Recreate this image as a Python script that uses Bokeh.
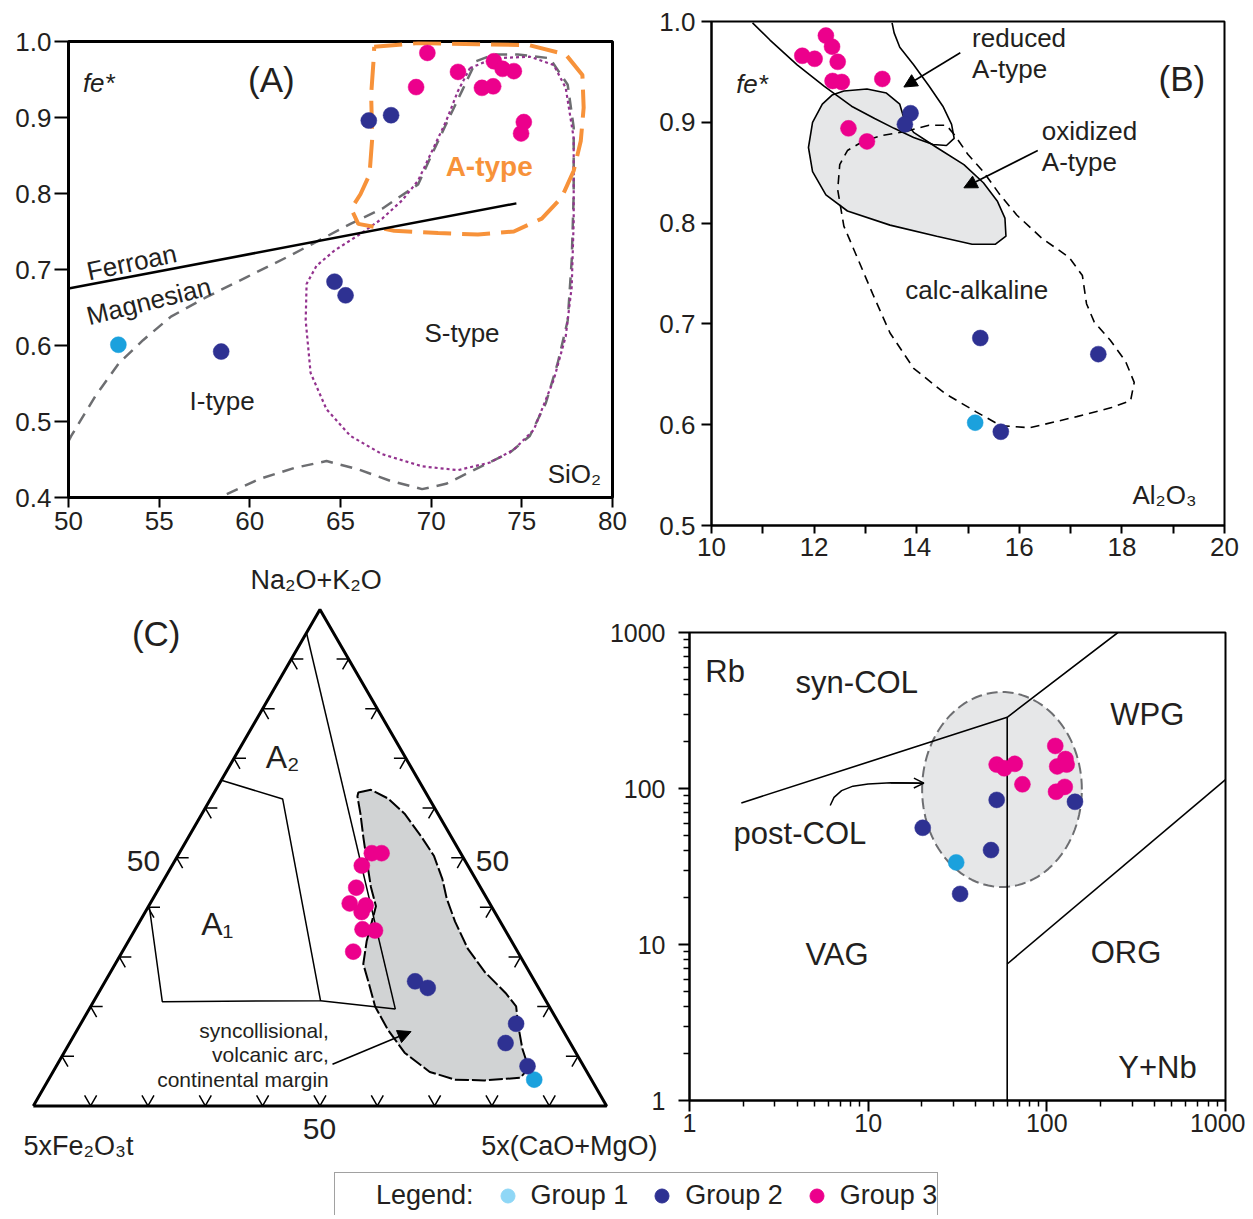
import numpy as np
from bokeh.plotting import figure
from bokeh.layouts import column, row
from bokeh.models import (Range1d, FixedTicker, PrintfTickFormatter, Arrow,
                          NormalHead, OpenHead, Legend, LegendItem, Label)
from bokeh.core.properties import value
from bokeh.embed import file_html
from bokeh.resources import INLINE

FONT = "Liberation Sans"
INK = "#231f20"
C_G1 = "#1ba1dd"
C_G1_LEG = "#8fd7f6"
C_G2 = "#2e3192"
C_G3 = "#ec008c"
ORANGE = "#f7923a"
PURPLE = "#93328e"
GREY = "#6d6e71"

# ======================= DATA =======================
# ---- (A) SiO2 vs fe* ----
a_xticks = [50, 55, 60, 65, 70, 75, 80]
a_yticks = [0.4, 0.5, 0.6, 0.7, 0.8, 0.9, 1.0]
a_g1_sio2 = [52.75]
a_g1_fe = [0.601]
a_g2_sio2 = [66.56, 67.79, 64.67, 65.28, 58.42]
a_g2_fe = [0.896, 0.903, 0.684, 0.666, 0.592]
a_g3_sio2 = [69.79, 69.17, 71.48, 73.46, 73.94, 74.56, 72.80, 73.42, 75.11, 74.96]
a_g3_fe = [0.985, 0.940, 0.960, 0.974, 0.964, 0.961, 0.939, 0.941, 0.894, 0.879]
a_ferroan_sio2 = [50.0, 74.7]
a_ferroan_fe = [0.675, 0.787]
a_itype_sio2 = [50.0, 50.15, 51.47, 52.79, 54.11, 55.65, 57.63, 59.83, 62.03, 63.79, 65.55,
                67.30, 69.28, 70.05, 70.82, 71.70, 72.47, 73.46, 74.78, 76.54, 77.53, 77.86,
                77.86, 77.75, 77.53, 76.98, 76.32, 75.44, 74.34, 73.02, 71.92, 70.82, 69.50,
                67.74, 65.98, 64.23, 62.47, 60.49, 58.51]
a_itype_fe = [0.474, 0.481, 0.533, 0.577, 0.607, 0.638, 0.664, 0.690, 0.716, 0.738, 0.760,
              0.780, 0.812, 0.852, 0.891, 0.935, 0.974, 0.983, 0.983, 0.978, 0.943, 0.887,
              0.799, 0.712, 0.633, 0.577, 0.524, 0.481, 0.459, 0.444, 0.431, 0.418, 0.411,
              0.422, 0.437, 0.448, 0.439, 0.424, 0.402]
a_stype_sio2 = [72.14, 73.46, 75.44, 76.76, 77.42, 77.86, 77.86, 77.75, 77.42, 76.76, 75.66,
                74.56, 73.24, 71.48, 69.50, 67.30, 65.55, 64.23, 63.35, 63.08, 63.13, 63.68,
                64.67, 65.98, 67.30, 68.40, 69.28, 70.05, 70.82, 71.48, 72.14]
a_stype_fe = [0.965, 0.978, 0.980, 0.969, 0.939, 0.873, 0.764, 0.677, 0.612, 0.555, 0.489,
              0.463, 0.446, 0.436, 0.441, 0.457, 0.481, 0.516, 0.564, 0.633, 0.681, 0.705,
              0.725, 0.745, 0.767, 0.791, 0.817, 0.856, 0.895, 0.935, 0.965]
a_atype_sio2 = [66.86, 69.28, 72.58, 75.44, 77.42, 78.34, 78.41, 78.25, 77.86, 77.20, 76.10,
                74.56, 72.58, 70.38, 67.96, 65.98, 65.59, 66.10, 66.60, 66.75, 66.69, 66.82, 66.86]
a_atype_fe = [0.993, 0.998, 0.9965, 0.995, 0.983, 0.956, 0.913, 0.869, 0.830, 0.795, 0.767,
              0.750, 0.746, 0.748, 0.751, 0.760, 0.780, 0.799, 0.825, 0.873, 0.930, 0.974, 0.993]

# ---- (B) Al2O3 vs fe* ----
b_xticks = [10, 12, 14, 16, 18, 20]
b_xminor = [11, 13, 15, 17, 19]
b_yticks = [0.5, 0.6, 0.7, 0.8, 0.9, 1.0]
b_g1_al = [15.14]
b_g1_fe = [0.602]
b_g2_al = [13.88, 13.77, 15.24, 17.54, 15.64]
b_g2_fe = [0.909, 0.898, 0.686, 0.670, 0.593]
b_g3_al = [12.23, 11.77, 12.01, 12.35, 12.46, 12.36, 12.54, 13.33, 12.67, 13.03]
b_g3_fe = [0.986, 0.966, 0.963, 0.975, 0.960, 0.941, 0.940, 0.943, 0.894, 0.881]
b_reduced_al = [10.80, 11.14, 11.67, 12.20, 12.73, 13.18, 13.56, 13.94, 14.32, 14.58, 14.73,
                14.68, 14.51, 14.24, 13.94, 13.67, 13.56, 13.52]
b_reduced_fe = [0.9986, 0.9816, 0.957, 0.9356, 0.916, 0.9037, 0.894, 0.885, 0.878, 0.877,
                0.884, 0.898, 0.916, 0.936, 0.957, 0.9745, 0.9887, 0.9986]
b_oxid_al = [12.58, 13.03, 13.41, 13.67, 13.75, 13.94, 14.39, 14.92, 15.30, 15.57, 15.72,
             15.74, 15.53, 15.08, 14.39, 13.48, 12.65, 12.23, 11.97, 11.89, 11.97, 12.16, 12.35]
b_oxid_fe = [0.931, 0.933, 0.929, 0.918, 0.904, 0.890, 0.875, 0.858, 0.840, 0.822, 0.805,
             0.787, 0.779, 0.779, 0.787, 0.798, 0.812, 0.828, 0.851, 0.875, 0.900, 0.918, 0.927]
b_calc_al = [13.79, 14.24, 14.58, 14.73, 15.00, 15.30, 15.61, 15.95, 16.44, 16.97, 17.23,
             17.31, 17.46, 17.77, 18.07, 18.24, 18.17, 17.80, 17.12, 16.21, 15.64, 15.15,
             14.55, 13.94, 13.48, 13.14, 12.84, 12.58, 12.46, 12.50, 12.65, 12.95, 13.33, 13.79]
b_calc_fe = [0.891, 0.897, 0.897, 0.888, 0.868, 0.851, 0.829, 0.808, 0.785, 0.766, 0.748,
             0.720, 0.702, 0.684, 0.663, 0.642, 0.624, 0.617, 0.608, 0.597, 0.599, 0.613,
             0.631, 0.656, 0.691, 0.730, 0.766, 0.797, 0.833, 0.858, 0.872, 0.881, 0.887, 0.891]

# ---- (C) ternary: Na2O+K2O (apex) / 5xFe2O3t (left) / 5x(CaO+MgO) (right), in % ----
c_g1_alk = [5.29]
c_g1_cam = [84.73]
c_g2_alk = [25.09, 23.76, 16.55, 12.66, 8.01]
c_g2_cam = [54.05, 56.92, 75.94, 76.05, 82.20]
c_g3_alk = [50.9, 50.9, 48.4, 43.95, 40.78, 40.37, 39.06, 35.57, 35.33, 31.07]
c_g3_cam = [33.6, 35.3, 33.1, 34.35, 34.8, 37.8, 37.74, 39.64, 41.94, 40.27]
c_field_alk = [63.12, 63.66, 61.95, 58.86, 54.2, 50.32, 45.66, 41.78, 37.12, 31.69, 27.03,
               22.75, 20.04, 16.15, 11.5, 7.61, 5.67, 5.13, 5.29, 6.84, 10.72, 15.38, 20.04,
               24.69, 28.58, 33.23, 36.33, 40.23, 44.11, 49.54, 54.2, 58.86, 62.35]
c_field_cam = [25.13, 27.06, 30.85, 35.33, 40.6, 44.74, 48.53, 51.22, 55.01, 59.93, 65.19,
               71.0, 74.2, 76.51, 79.56, 82.61, 82.12, 76.14, 70.93, 65.74, 59.4, 54.13, 49.6,
               46.18, 43.27, 41.54, 40.72, 39.65, 36.83, 33.38, 30.46, 27.63, 25.36]
c_a1_alk = [65.6, 61.8, 21.2, 21.0, 40.4]
c_a1_cam = [0.0, 12.6, 39.5, 12.0, 0.0]
c_a1tail_alk = [21.2, 19.5]
c_a1tail_cam = [39.5, 53.4]
c_a2_alk = [95.3, 19.5]
c_a2_cam = [0.0, 53.4]
c_tri_alk = [0, 0, 100, 0]
c_tri_cam = [0, 100, 0, 0]
c_tick_pct = [10, 20, 30, 40, 50, 60, 70, 80, 90]

# ---- (D) Y+Nb vs Rb ----
d_ticks = [1, 10, 100, 1000]
d_minor = [2, 3, 4, 5, 6, 7, 8, 9, 20, 30, 40, 50, 60, 70, 80, 90, 200, 300, 400, 500, 600, 700, 800, 900]
d_g1_ynb = [31.1]
d_g1_rb = [33.6]
d_g2_ynb = [52.4, 143.7, 20.2, 48.7, 32.7]
d_g2_rb = [84.5, 82.2, 56.0, 40.3, 21.1]
d_g3_ynb = [111.5, 52.4, 57.8, 66.2, 73.0, 114.3, 127.2, 129.1, 126.0, 112.6]
d_g3_rb = [187.4, 142.3, 134.7, 143.9, 106.4, 138.5, 154.5, 142.3, 102.4, 95.3]
d_vag_wpg_ynb = [60, 60]
d_vag_wpg_rb = [1, 286]
d_syncol_ynb = [1.95, 60, 250]
d_syncol_rb = [80.8, 286, 1000]
d_org_ynb = [60, 1000]
d_org_rb = [7.5, 114]
d_postcol_center = (56.1, 98.5)      # Y+Nb, Rb
d_postcol_halfdecades = (0.447, 0.625)
d_postcol_arrow_ynb = [6.13, 6.44, 7.10, 8.22, 9.99, 13.4, 20.5]
d_postcol_arrow_rb = [77.8, 87.8, 96.9, 103.5, 106.9, 108.8, 108.2]

# legend
legend_labels = ["Group 1", "Group 2", "Group 3"]
legend_colors = [C_G1_LEG, C_G2, C_G3]


# ======================= HELPERS =======================
def txt(p, x, y, s, size="26px", align="center", baseline="middle",
        color=INK, style="normal", angle=0.0):
    p.text(x=[x], y=[y], text=[s], text_font=value(FONT), text_font_size=value(size),
           text_align=align, text_baseline=baseline, text_color=color,
           text_font_style=style, angle=angle)


def style_axes(p, outline_w, x_out, y_out, x_standoff, y_standoff, fs="26px"):
    p.grid.visible = False
    p.outline_line_color = "black"
    p.outline_line_width = outline_w
    p.outline_line_alpha = 1.0
    p.background_fill_color = "white"
    for ax in p.axis:
        ax.axis_line_width = outline_w
        ax.axis_line_color = "black"
        ax.major_tick_line_color = "black"
        ax.major_tick_line_width = 2
        ax.major_tick_in = 0
        ax.minor_tick_in = 0
        ax.minor_tick_line_color = None
        ax.major_label_text_font = FONT
        ax.major_label_text_font_size = fs
        ax.major_label_text_color = INK
    for ax in p.xaxis:
        ax.major_tick_out = x_out
        ax.major_label_standoff = x_standoff
    for ax in p.yaxis:
        ax.major_tick_out = y_out
        ax.major_label_standoff = y_standoff


def pts(p, x, y, color, size=16):
    p.scatter(x=x, y=y, size=size, fill_color=color, line_color=color, line_width=0.5)


SQ3 = np.sqrt(3) / 2.0


def tern(alk, cam):
    a = np.asarray(alk, dtype=float) / 100.0
    c = np.asarray(cam, dtype=float) / 100.0
    return c + a / 2.0, a * SQ3


COMMON = dict(output_backend="svg", toolbar_location=None, frame_align=False)

# ======================= (A) =======================
pA = figure(width=632, height=560, x_range=Range1d(50, 80), y_range=Range1d(0.4, 1.0),
            min_border_left=60, min_border_right=28, min_border_top=33, min_border_bottom=71,
            **COMMON)
style_axes(pA, 3, 10, 14, 4, 3)
pA.xaxis.ticker = FixedTicker(ticks=a_xticks)
pA.yaxis.ticker = FixedTicker(ticks=a_yticks)
pA.xaxis.formatter = PrintfTickFormatter(format="%d")
pA.yaxis.formatter = PrintfTickFormatter(format="%.1f")

pA.line(a_itype_sio2, a_itype_fe, line_color=GREY, line_width=2.5, line_dash="12 8")
pA.line(a_stype_sio2, a_stype_fe, line_color=PURPLE, line_width=2.2, line_dash="3 3")
pA.line(a_atype_sio2, a_atype_fe, line_color=ORANGE, line_width=4, line_dash="28 11")
pA.line(a_ferroan_sio2, a_ferroan_fe, line_color="black", line_width=2.5)

txt(pA, 51.67, 0.946, "fe*", style="italic")
txt(pA, 61.19, 0.950, "(A)", size="35px")
txt(pA, 73.2, 0.835, "A-type", size="28px", color=ORANGE, style="bold")
txt(pA, 51.03, 0.697, "Ferroan", baseline="alphabetic", align="left", angle=np.radians(12))
txt(pA, 51.03, 0.638, "Magnesian", baseline="alphabetic", align="left", angle=np.radians(14))
txt(pA, 58.47, 0.527, "I-type")
txt(pA, 71.70, 0.616, "S-type")
txt(pA, 77.9, 0.431, "SiO\u2082")

pts(pA, a_g1_sio2, a_g1_fe, C_G1)
pts(pA, a_g2_sio2, a_g2_fe, C_G2)
pts(pA, a_g3_sio2, a_g3_fe, C_G3)

# ======================= (B) =======================
pB = figure(width=605, height=560, x_range=Range1d(10, 20), y_range=Range1d(0.5, 1.0),
            min_border_left=71, min_border_right=21, min_border_top=13, min_border_bottom=43,
            **COMMON)
style_axes(pB, 2, 8, 10, 4, 6)
pB.xaxis.ticker = FixedTicker(ticks=b_xticks, minor_ticks=b_xminor)
pB.yaxis.ticker = FixedTicker(ticks=b_yticks)
pB.xaxis.formatter = PrintfTickFormatter(format="%d")
pB.yaxis.formatter = PrintfTickFormatter(format="%.1f")
pB.xaxis.minor_tick_line_color = "black"
pB.xaxis.minor_tick_line_width = 2
pB.xaxis.minor_tick_out = 8

pB.patch(b_oxid_al, b_oxid_fe, fill_color="#e6e7e8", line_color="black", line_width=1.6)
pB.line(b_calc_al, b_calc_fe, line_color="black", line_width=1.6, line_dash="9 6")
pB.line(b_reduced_al, b_reduced_fe, line_color="black", line_width=1.6)

txt(pB, 10.79, 0.938, "fe*", style="italic")
txt(pB, 19.17, 0.9437, "(B)", size="35px")
txt(pB, 15.08, 0.984, "reduced", align="left")
txt(pB, 15.08, 0.953, "A-type", align="left")
txt(pB, 16.44, 0.891, "oxidized", align="left")
txt(pB, 16.44, 0.861, "A-type", align="left")
txt(pB, 15.17, 0.734, "calc-alkaline")
txt(pB, 18.83, 0.530, "Al\u2082O\u2083")
pB.add_layout(Arrow(end=NormalHead(size=13, fill_color="black", line_color="black"),
                    x_start=14.85, y_start=0.969, x_end=13.75, y_end=0.935,
                    line_width=1.6, line_color="black"))
pB.add_layout(Arrow(end=NormalHead(size=13, fill_color="black", line_color="black"),
                    x_start=16.36, y_start=0.872, x_end=14.92, y_end=0.835,
                    line_width=1.6, line_color="black"))

pts(pB, b_g1_al, b_g1_fe, C_G1)
pts(pB, b_g2_al, b_g2_fe, C_G2)
pts(pB, b_g3_al, b_g3_fe, C_G3)

# ======================= (C) ternary =======================
pC = figure(width=652, height=605, x_range=Range1d(-0.04326, 1.09401),
            y_range=Range1d(-0.10396, 0.95133), min_border=0,
            x_axis_location=None, y_axis_location=None, margin=(-8, 0, 0, 0), **COMMON)
pC.grid.visible = False
pC.outline_line_color = None
pC.border_fill_alpha = 0.0
pC.background_fill_alpha = 0.0

fx, fy = tern(c_field_alk, c_field_cam)
pC.patch(fx, fy, fill_color="#d1d3d4", line_color="black", line_width=2, line_dash="14 3")

tx, ty = tern(c_tri_alk, c_tri_cam)
pC.line(tx, ty, line_color="black", line_width=3)

# chevron ticks along the three sides
L = 0.021
xs, ys = [], []
for k in c_tick_pct:
    bx, by = tern([0], [k])
    xs.append([bx[0] - 0.5 * L, bx[0], bx[0] + 0.5 * L]); ys.append([by[0] + SQ3 * L, by[0], by[0] + SQ3 * L])
    lx, ly = tern([k], [0])
    xs.append([lx[0] + L, lx[0], lx[0] + 0.5 * L]); ys.append([ly[0], ly[0], ly[0] - SQ3 * L])
    rx, ry = tern([k], [100 - k])
    xs.append([rx[0] - L, rx[0], rx[0] - 0.5 * L]); ys.append([ry[0], ry[0], ry[0] - SQ3 * L])
pC.multi_line(xs, ys, line_color="black", line_width=1.5)

ax_, ay_ = tern(c_a1_alk, c_a1_cam)
pC.line(ax_, ay_, line_color="black", line_width=1.5)
ax_, ay_ = tern(c_a1tail_alk, c_a1tail_cam)
pC.line(ax_, ay_, line_color="black", line_width=1.5)
ax_, ay_ = tern(c_a2_alk, c_a2_cam)
pC.line(ax_, ay_, line_color="black", line_width=1.5)

txt(pC, 0.4934, 0.918, "Na\u2082O+K\u2082O", size="27px")
txt(pC, 0.2144, 0.824, "(C)", size="35px")
txt(pC, 0.4347, 0.609, "A\u2082", size="32px")
txt(pC, 0.321, 0.3175, "A\u2081", size="32px")
txt(pC, 0.1922, 0.428, "50", size="30px")
txt(pC, 0.801, 0.428, "50", size="30px")
txt(pC, 0.4993, -0.0408, "50", size="30px")
txt(pC, -0.017, -0.0693, "5xFe\u2082O\u2083t", size="27px", align="left")
txt(pC, 1.0888, -0.0693, "5x(CaO+MgO)", size="27px", align="right")
txt(pC, 0.5154, 0.1315, "syncollisional,", size="21px", align="right")
txt(pC, 0.5154, 0.0893, "volcanic arc,", size="21px", align="right")
txt(pC, 0.5154, 0.0457, "continental margin", size="21px", align="right")
s_x, s_y = tern([8.38], [48.0])
e_x, e_y = tern([14.97], [58.4])
pC.add_layout(Arrow(end=NormalHead(size=13, fill_color="black", line_color="black"),
                    x_start=float(s_x[0]), y_start=float(s_y[0]),
                    x_end=float(e_x[0]), y_end=float(e_y[0]),
                    line_width=1.6, line_color="black"))

gx, gy = tern(c_g1_alk, c_g1_cam)
pts(pC, gx, gy, C_G1)
gx, gy = tern(c_g2_alk, c_g2_cam)
pts(pC, gx, gy, C_G2)
gx, gy = tern(c_g3_alk, c_g3_cam)
pts(pC, gx, gy, C_G3)

# ======================= (D) =======================
pD = figure(width=640, height=597, x_axis_type="log", y_axis_type="log",
            x_range=Range1d(1, 1000), y_range=Range1d(1, 1000),
            min_border_left=84, min_border_right=20, min_border_top=64, min_border_bottom=65,
            margin=(0, 0, 0, -55), **COMMON)
style_axes(pD, 2, 11, 11, 2, 13, fs="25px")
pD.border_fill_alpha = 0.0
for ax in pD.axis:
    ax.ticker = FixedTicker(ticks=d_ticks, minor_ticks=d_minor)
    ax.formatter = PrintfTickFormatter(format="%d")
    ax.minor_tick_line_color = "black"
    ax.minor_tick_line_width = 1.5
    ax.minor_tick_out = 6

t = np.linspace(0, 2 * np.pi, 120)
ex = 10 ** (np.log10(d_postcol_center[0]) + d_postcol_halfdecades[0] * np.cos(t))
ey = 10 ** (np.log10(d_postcol_center[1]) + d_postcol_halfdecades[1] * np.sin(t))
pD.patch(ex, ey, fill_color="#e6e7e8", line_color=GREY, line_width=2, line_dash="11 5")
pD.line(d_vag_wpg_ynb, d_vag_wpg_rb, line_color="black", line_width=1.6)
pD.line(d_syncol_ynb, d_syncol_rb, line_color="black", line_width=1.6)
pD.line(d_org_ynb, d_org_rb, line_color="black", line_width=1.6)
pD.line(d_postcol_arrow_ynb, d_postcol_arrow_rb, line_color="black", line_width=1.5)
pD.add_layout(Arrow(end=OpenHead(size=10, line_color="black", line_width=1.5),
                    x_start=d_postcol_arrow_ynb[-2], y_start=d_postcol_arrow_rb[-2],
                    x_end=d_postcol_arrow_ynb[-1], y_end=d_postcol_arrow_rb[-1],
                    line_width=1.5, line_color="black"))

txt(pD, 1.227, 562, "Rb", size="31px", align="left")
txt(pD, 8.63, 477, "syn-COL", size="31px")
txt(pD, 364.7, 299, "WPG", size="31px")
txt(pD, 4.15, 51.6, "post-COL", size="31px")
txt(pD, 6.69, 8.65, "VAG", size="31px")
txt(pD, 277.5, 8.89, "ORG", size="31px")
txt(pD, 415.9, 1.62, "Y+Nb", size="31px")
pD.add_layout(Label(x=45.3, y=1727, text="(D)", text_font=FONT, text_font_size="35px",
                    text_align="center", text_baseline="middle", text_color=INK))

pts(pD, d_g1_ynb, d_g1_rb, C_G1)
pts(pD, d_g2_ynb, d_g2_rb, C_G2)
pts(pD, d_g3_ynb, d_g3_rb, C_G3)

# ======================= legend =======================
pL = figure(width=1237, height=50, x_range=Range1d(0, 1), y_range=Range1d(0, 1),
            min_border=0, x_axis_location=None, y_axis_location=None, **COMMON)
pL.grid.visible = False
pL.outline_line_color = None
# legend swatches: the group series themselves, lying outside this strip's view
r0 = pL.scatter(x=a_g1_sio2, y=a_g1_fe, size=14, fill_alpha=0, line_alpha=0)
items = [LegendItem(label="Legend:", renderers=[r0])]
for lab, col, gx_, gy_ in zip(legend_labels, legend_colors,
                              [a_g1_sio2, a_g2_sio2, a_g3_sio2], [a_g1_fe, a_g2_fe, a_g3_fe]):
    r = pL.scatter(x=gx_, y=gy_, size=14, fill_color=col, line_color=col)
    items.append(LegendItem(label=lab, renderers=[r]))
leg = Legend(items=items, orientation="horizontal", location=(326, -3),
             label_text_font=FONT, label_text_font_size="27px", label_text_color=INK,
             glyph_width=35, glyph_height=35, label_height=44, label_standoff=6, spacing=16,
             padding=0, margin=0, border_line_color="#444444", border_line_width=1.5,
             background_fill_color="white", background_fill_alpha=1.0)
pL.add_layout(leg)

layout = column(row(pA, pB, spacing=0), row(pC, pD, spacing=0), pL, spacing=0,
                margin=(8, 0, 0, 8))

with open("out.html", "w") as f:
    f.write(file_html(layout, INLINE, title="Geochemical discrimination diagrams"))
